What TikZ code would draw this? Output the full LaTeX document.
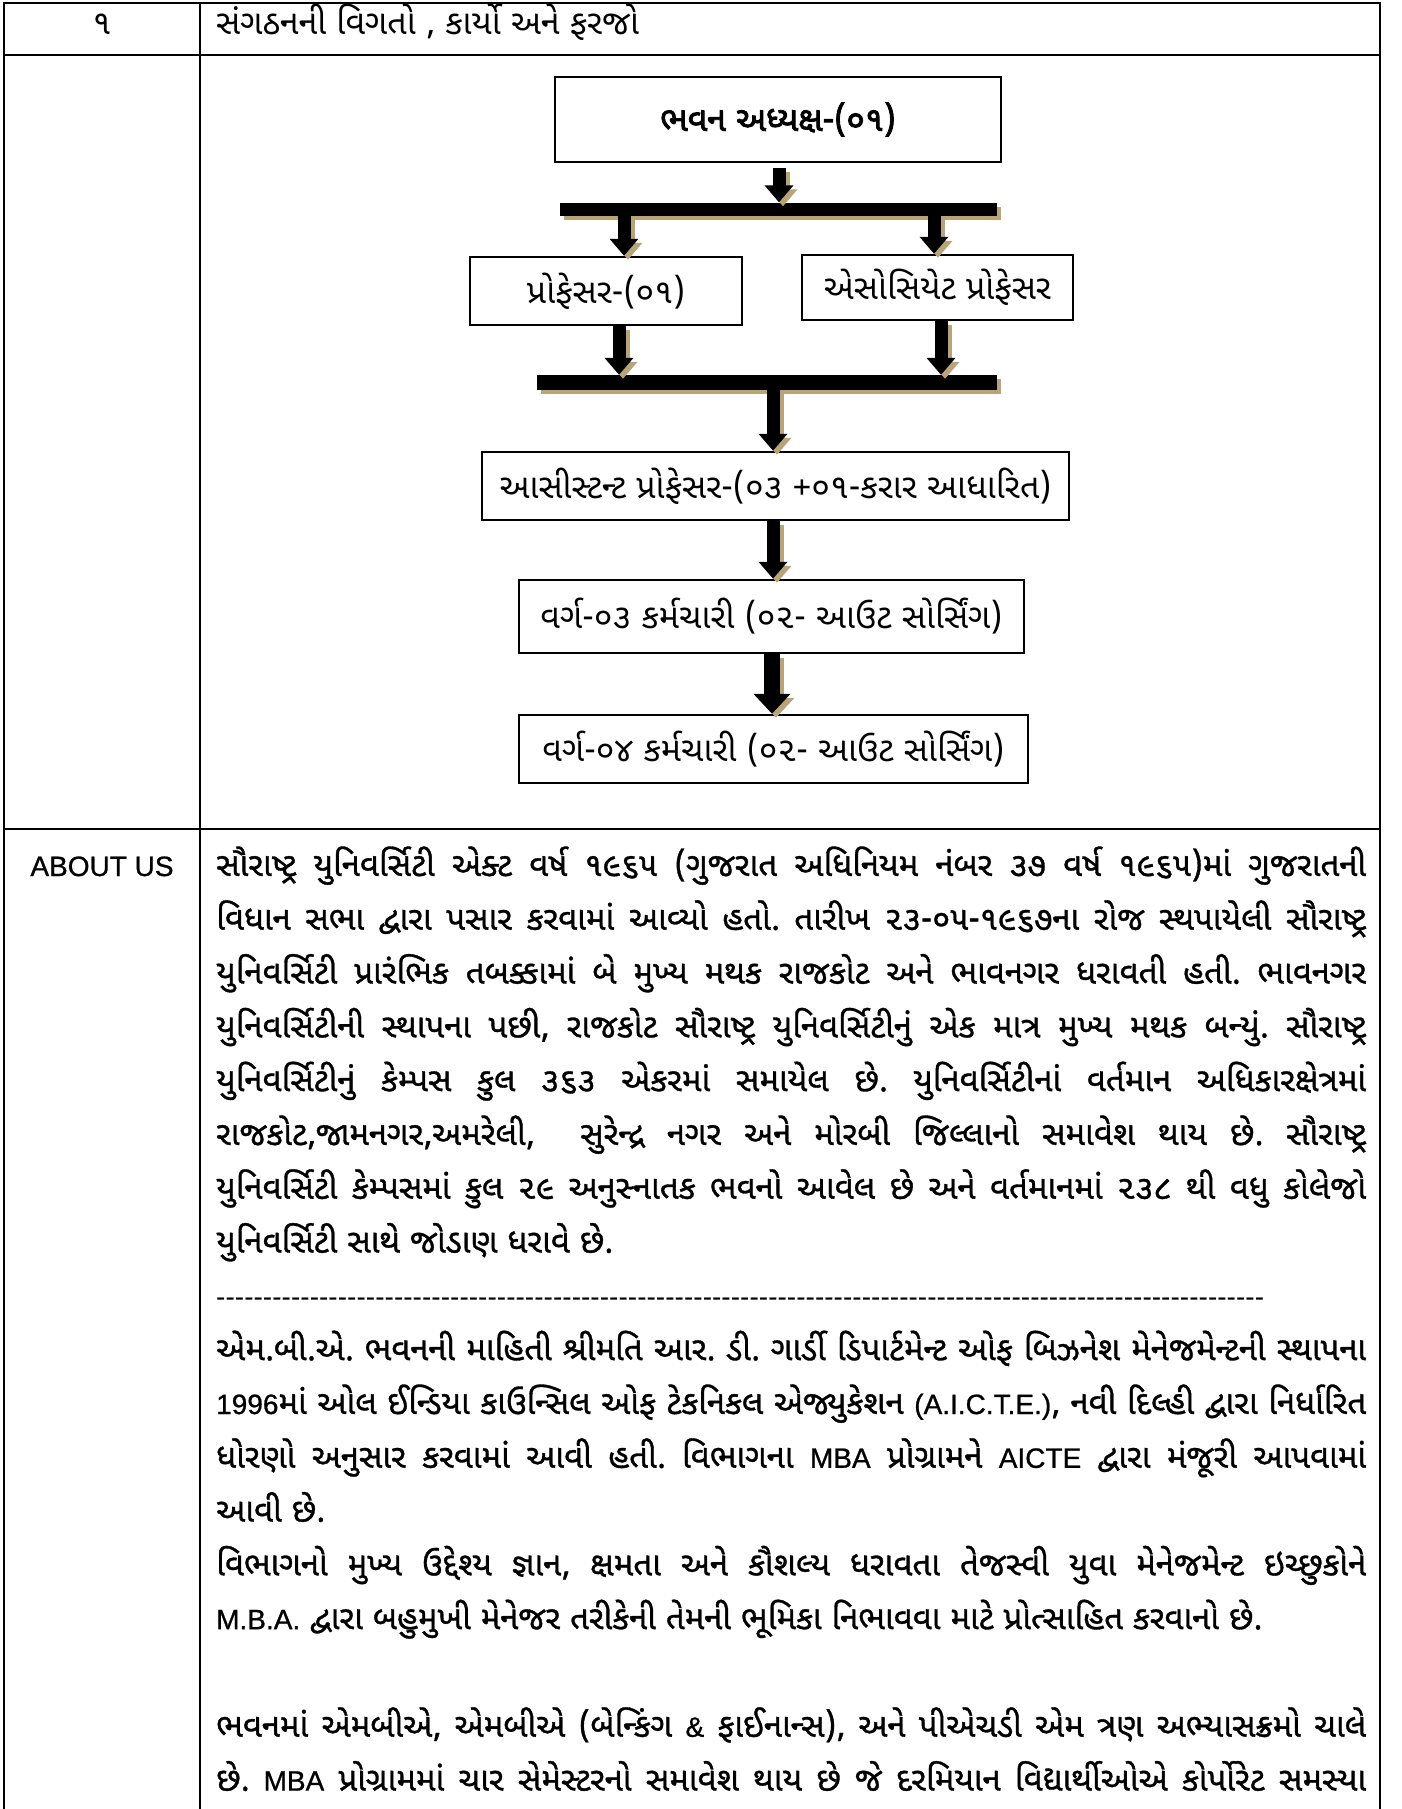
\documentclass[tikz,border=0pt]{standalone}
\usepackage{fontspec}
\setmainfont{Liberation Sans}
\newfontfamily\guj[Script=Gujarati]{Noto Sans Gujarati UI}
\newfontfamily\gujM[Script=Gujarati,FakeBold=1]{Noto Sans Gujarati UI}
\newfontfamily\gujB[Script=Gujarati,FakeBold=2.5]{Noto Sans Gujarati UI}
\newfontfamily\lat{Liberation Sans}
\newfontfamily\latM[FakeBold=0.8]{Liberation Sans}
\usetikzlibrary{arrows.meta,shadows}
\definecolor{shadowc}{RGB}{184,164,118}
\newcommand\gsize{\fontsize{33}{38}\selectfont}
\newcommand\osize{\fontsize{34}{39}\selectfont}
\newcommand\lt[1]{{\latM\fontsize{28}{32}\selectfont #1}}
\frenchspacing
\tikzset{
  tbl/.style={line width=2.5pt},
  orgbox/.style={draw, line width=2.5pt, inner sep=0pt, font=\guj\osize},
  hbar/.style={fill=black, inner sep=0pt, drop shadow={shadow xshift=4pt, shadow yshift=-4pt, fill=shadowc, opacity=1}},
  blk/.style={line width=13pt, -{Triangle[width=28pt,length=17pt]}},
  blkshadow/.style={blk, draw=shadowc, transform canvas={shift={(4,4)}}},
  gline/.style={anchor=base west, inner sep=0pt, font=\gujM\gsize},
}
\newcommand\blkarrow[3][]{%
  \draw[blkshadow,#1] #2 -- #3;
  \draw[blk,#1] #2 -- #3;}
\newcommand\jl[3]{\node[gline] (#1) at (216,{876+53.8*#2}) {\hbox to 1150pt{#3}};}
\newcommand\rl[3]{\node[gline] (#1) at (216,{876+53.8*#2}) {#3};}
\begin{document}
\begin{tikzpicture}[x=1pt,y=-1pt]
\useasboundingbox[fill=white] (0,0) rectangle (1401,1809);
% table frame
\draw[tbl] (4,1815) -- (4,3) -- (1380,3) -- (1380,1815);
\draw[tbl] (200,3) -- (200,1815);
\draw[tbl] (4,55) -- (1380,55);
\draw[tbl] (4,829) -- (1380,829);
% row 1
\node[anchor=base, inner sep=0pt, font=\guj\osize] (num) at (102,35) {૧};
\node[anchor=base west, inner sep=0pt, font=\guj\osize] (head) at (216,35) {સંગઠનની વિગતો , કાર્યો અને ફરજો};
% org chart
\node[orgbox, font=\gujB\osize, minimum width=446pt, minimum height=85pt] (top) at (778,119.5) {ભવન અધ્યક્ષ-(૦૧)};
\node[hbar, minimum width=437pt, minimum height=13pt] (bar1) at (778.5,209) {};
\node[orgbox, minimum width=272pt, minimum height=68pt] (prof) at (606,291) {પ્રોફેસર-(૦૧)};
\node[orgbox, minimum width=271pt, minimum height=65pt] (assoc) at (937.5,287.5) {એસોસિયેટ પ્રોફેસર};
\node[hbar, minimum width=460pt, minimum height=15pt] (bar2) at (767,382.5) {};
\node[orgbox, minimum width=587pt, minimum height=68pt] (asst) at (775.5,486) {આસીસ્ટન્ટ પ્રોફેસર-(૦૩ +૦૧-કરાર આધારિત)};
\node[orgbox, minimum width=505pt, minimum height=73pt] (c3) at (771.5,616.5) {વર્ગ-૦૩ કર્મચારી (૦૨- આઉટ સોર્સિંગ)};
\node[orgbox, minimum width=509pt, minimum height=68pt] (c4) at (773.5,749) {વર્ગ-૦૪ કર્મચારી (૦૨- આઉટ સોર્સિંગ)};
\coordinate (xa) at (779,0);
\coordinate (xb) at (624,0);
\coordinate (xc) at (934,0);
\coordinate (xd) at (619,0);
\coordinate (xe) at (941,0);
\coordinate (xf) at (773,0);
\coordinate (xg) at (772,0);
\blkarrow[shorten <=5pt]{(xa |- top.south)}{(xa |- bar1.north)}
\blkarrow{(xb |- bar1.south)}{(xb |- prof.north)}
\blkarrow{(xc |- bar1.south)}{(xc |- assoc.north)}
\blkarrow{(xd |- prof.south)}{(xd |- bar2.north)}
\blkarrow{(xe |- assoc.south)}{(xe |- bar2.north)}
\blkarrow{(xf |- bar2.south)}{(xf |- asst.north)}
\blkarrow{(xf |- asst.south)}{(xf |- c3.north)}
\blkarrow[line width=16pt, -{Triangle[width=36pt,length=20pt]}]{(xg |- c3.south)}{(xg |- c4.north)}
% row 3
\node[anchor=base, inner sep=0pt, font=\latM\fontsize{28}{32}\selectfont] (about) at (102,876) {ABOUT US};
\jl{l0}{0}{સૌરાષ્ટ્ર યુનિવર્સિટી એક્ટ વર્ષ ૧૯૬૫ (ગુજરાત અધિનિયમ નંબર ૩૭ વર્ષ ૧૯૬૫)માં ગુજરાતની}
\jl{l1}{1}{વિધાન સભા દ્વારા પસાર કરવામાં આવ્યો હતો. તારીખ ૨૩-૦૫-૧૯૬૭ના રોજ સ્થપાયેલી સૌરાષ્ટ્ર}
\jl{l2}{2}{યુનિવર્સિટી પ્રારંભિક તબક્કામાં બે મુખ્ય મથક રાજકોટ અને ભાવનગર ધરાવતી હતી. ભાવનગર}
\jl{l3}{3}{યુનિવર્સિટીની સ્થાપના પછી, રાજકોટ સૌરાષ્ટ્ર યુનિવર્સિટીનું એક માત્ર મુખ્ય મથક બન્યું. સૌરાષ્ટ્ર}
\jl{l4}{4}{યુનિવર્સિટીનું કેમ્પસ કુલ ૩૬૩ એકરમાં સમાયેલ છે. યુનિવર્સિટીનાં વર્તમાન અધિકારક્ષેત્રમાં}
\jl{l5}{5}{રાજકોટ,જામનગર,અમરેલી,\ \ સુરેન્દ્ર નગર અને મોરબી જિલ્લાનો સમાવેશ થાય છે. સૌરાષ્ટ્ર}
\jl{l6}{6}{યુનિવર્સિટી કેમ્પસમાં કુલ ૨૯ અનુસ્નાતક ભવનો આવેલ છે અને વર્તમાનમાં ૨૩૮ થી વધુ કોલેજો}
\rl{l7}{7}{યુનિવર્સિટી સાથે જોડાણ ધરાવે છે.}
\node[anchor=base west, inner sep=0pt, font=\lat\fontsize{28}{32}\selectfont] (dash) at (216,{876+53.8*8}) {\hbox to 1048pt{\xleaders\hbox{-}\hfill}};
\jl{l9}{9}{એમ.બી.એ. ભવનની માહિતી શ્રીમતિ આર. ડી. ગાર્ડી ડિપાર્ટમેન્ટ ઓફ બિઝનેશ મેનેજમેન્ટની સ્થાપના}
\jl{l10}{10}{\lt{1996}માં ઓલ ઈન્ડિયા કાઉન્સિલ ઓફ ટેકનિકલ એજ્યુકેશન \lt{(A.I.C.T.E.)}, નવી દિલ્હી દ્વારા નિર્ધારિત}
\jl{l11}{11}{ધોરણો અનુસાર કરવામાં આવી હતી. વિભાગના \lt{MBA} પ્રોગ્રામને \lt{AICTE} દ્વારા મંજૂરી આપવામાં}
\rl{l12}{12}{આવી છે.}
\jl{l13}{13}{વિભાગનો મુખ્ય ઉદ્દેશ્ય જ્ઞાન, ક્ષમતા અને કૌશલ્ય ધરાવતા તેજસ્વી યુવા મેનેજમેન્ટ ઇચ્છુકોને}
\rl{l14}{14}{\lt{M.B.A.} દ્વારા બહુમુખી મેનેજર તરીકેની તેમની ભૂમિકા નિભાવવા માટે પ્રોત્સાહિત કરવાનો છે.}
\jl{l16}{16}{ભવનમાં એમબીએ, એમબીએ (બેન્કિંગ \lt{\&} ફાઈનાન્સ), અને પીએચડી એમ ત્રણ અભ્યાસક્રમો ચાલે}
\jl{l17}{17}{છે. \lt{MBA} પ્રોગ્રામમાં ચાર સેમેસ્ટરનો સમાવેશ થાય છે જે દરમિયાન વિદ્યાર્થીઓએ કોર્પોરેટ સમસ્યા}
\end{tikzpicture}
\end{document}
